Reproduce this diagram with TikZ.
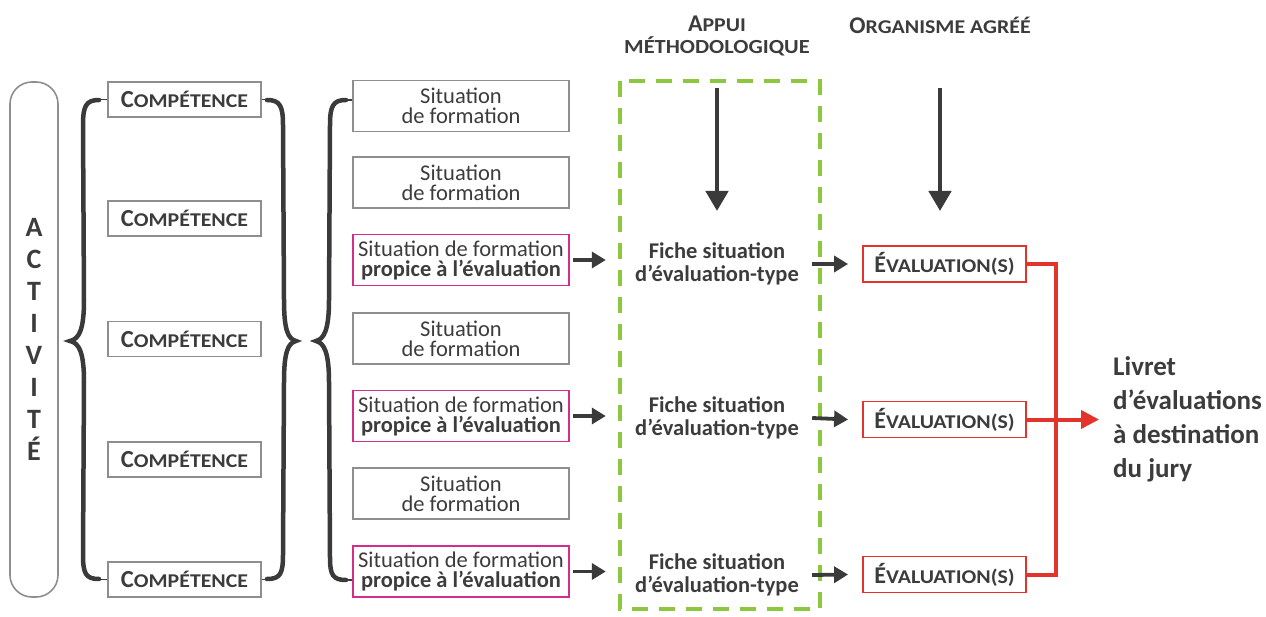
\documentclass[tikz,border=0pt]{standalone}
\usepackage{fontspec}
\setmainfont{Carlito}
\usetikzlibrary{arrows.meta}
\definecolor{txt}{HTML}{3C3C3C}
\definecolor{boxgray}{HTML}{8E8E8E}
\definecolor{mag}{HTML}{D42E8A}
\definecolor{redc}{HTML}{E3342C}
\definecolor{greenc}{HTML}{8DC63F}
\definecolor{dark}{HTML}{3A3A3A}
\newcommand\scw[4]{{\fontsize{#1}{#1}\selectfont #2}{\fontsize{#3}{#3}\selectfont\addfontfeature{FakeStretch=1.12}#4}}
\begin{document}
\begin{tikzpicture}[x=1pt,y=-1pt,text=txt,
  compbox/.style={draw=boxgray, line width=1.6pt, minimum width=153pt, minimum height=35pt, inner sep=0pt, font=\bfseries},
  sitbox/.style={draw=boxgray, line width=1.6pt, minimum width=216pt, minimum height=51pt, inner sep=0pt, align=center, font=\fontsize{22.5}{20}\selectfont},
  propbox/.style={sitbox, draw=mag},
  evalbox/.style={draw=redc, line width=1.8pt, minimum width=163pt, minimum height=36pt, inner sep=0pt, font=\bfseries},
  fiche/.style={minimum width=190pt, inner sep=0pt, align=center, font=\bfseries\fontsize{22.5}{23}\selectfont},
  brace/.style={draw=dark, line width=4.5pt, line cap=round},
  thin/.style={draw=dark, line width=1.2pt},
  arr/.style={draw=dark, line width=3.8pt, -{Triangle[length=14pt,width=16pt]}},
  darr/.style={draw=dark, line width=4.5pt, -{Triangle[length=20pt,width=22pt]}},
  redl/.style={draw=redc, line width=4pt},
  redarr/.style={draw=redc, line width=4pt, -{Triangle[length=18pt,width=18pt]}},
  head/.style={font=\bfseries\fontsize{20}{22}\selectfont, align=center, inner sep=0pt}
]
\useasboundingbox (0,0) rectangle (1266,617);

% Activite
\node[draw=boxgray, line width=1.6pt, rounded corners=22pt, minimum width=48pt, minimum height=515pt,
      align=center, inner sep=0pt, font=\bfseries\fontsize{28}{31.9}\selectfont] (act) at (34,339.5)
      {A\\C\\T\\I\\V\\I\\T\\É};

% Competences
\foreach \n/\y in {1/99.5,2/218.5,3/339,4/459.5,5/579.5}{
  \node[compbox] (c\n) at (184.5,\y) {\scw{24.5}{C}{19.5}{OMPÉTENCE}};
}

% Situations
\node[sitbox]  (s1) at (461,106)   {Situation\\de formation};
\node[sitbox]  (s2) at (461,182.5) {Situation\\de formation};
\node[propbox] (s3) at (461,260)   {Situation de formation\\\textbf{propice à l’évaluation}};
\node[sitbox]  (s4) at (461,338.5) {Situation\\de formation};
\node[propbox] (s5) at (461,416)   {Situation de formation\\\textbf{propice à l’évaluation}};
\node[sitbox]  (s6) at (461,493.5) {Situation\\de formation};
\node[propbox] (s7) at (461,571.5) {Situation de formation\\\textbf{propice à l’évaluation}};

% Braces
\draw[thin] (c1.west) -- ++(-6,0);
\draw[thin] (c5.west) -- ++(-6,0);
\draw[brace] (99,100) .. controls (86,100) and (83,106) .. (83,125) -- (84,300)
   .. controls (84,330) and (79,339) .. (70,341) .. controls (79,343) and (84,352) .. (84,382)
   -- (83,555) .. controls (83,574) and (86,579) .. (99,579);
\draw[thin] (c1.east) -- ++(6,0);
\draw[thin] (c5.east) -- ++(6,0);
\draw[brace] (267,100) .. controls (280,100) and (283,106) .. (283,125) -- (284,300)
   .. controls (284,330) and (288,339) .. (296,341) .. controls (288,343) and (284,352) .. (284,382)
   -- (283,555) .. controls (283,574) and (280,579) .. (267,579);
\draw[thin] (s1.west |- 0,100) -- ++(-8,0);
\draw[thin] (s7.west |- 0,580) -- ++(-8,0);
\draw[brace] (346,100) .. controls (333,100) and (330,106) .. (330,125) -- (329,300)
   .. controls (329,330) and (324,339) .. (316,341) .. controls (324,343) and (329,352) .. (329,382)
   -- (330,558) .. controls (330,575) and (333,580) .. (346,580);

% Green dashed box
\draw[greenc, line width=4.2pt, dash pattern=on 16pt off 11pt] (620,81) rectangle (820,609);

% Headers
\node[head] (h1) at (717,36) {\scw{24}{A}{19.5}{PPUI}\\{\addfontfeature{FakeStretch=1.12}MÉTHODOLOGIQUE}};
\node[head] (h2) at (940,25) {\scw{24}{O}{19.5}{RGANISME AGRÉÉ}};

% Fiches
\node[fiche] (f1) at (717,264) {Fiche situation\\d’évaluation-type};
\node[fiche] (f2) at (717,418) {Fiche situation\\d’évaluation-type};
\node[fiche] (f3) at (717,575) {Fiche situation\\d’évaluation-type};

% Evaluations
\node[evalbox] (e1) at (944.5,264) {\scw{24}{É}{19.5}{VALUATION(S)}};
\node[evalbox] (e2) at (944.5,419.5) {\scw{24}{É}{19.5}{VALUATION(S)}};
\node[evalbox] (e3) at (944.5,574.5) {\scw{24}{É}{19.5}{VALUATION(S)}};

% Livret
\node[anchor=west, align=left, inner sep=0pt, font=\bfseries\fontsize{27}{34}\selectfont] (liv) at (1113,419)
  {Livret\\d’évaluations\\à destination\\du jury};

% Down arrows
\coordinate (a1s) at (717,88);
\coordinate (a1e) at (717,211);
\coordinate (a2s) at (940,88);
\coordinate (a2e) at (940,211);
\draw[darr] (a1s) -- (a1e);
\draw[darr] (a2s) -- (a2e);

% Horizontal arrows
\foreach \s/\f in {s3/f1,s5/f2,s7/f3}{
  \draw[arr] ([xshift=3pt]\s.east) -- ([xshift=-16pt]\f.west |- \s.east);
}
\foreach \f/\e in {f1/e1,f2/e2,f3/e3}{
  \draw[arr] (\f.east) -- ([xshift=-14pt]\e.west);
}

% Red lines
\draw[redl] (e1.east) -- ++(29,0) |- (e3.east);
\draw[redarr] (e2.east) -- ([xshift=-14pt]liv.west |- e2.east);
\end{tikzpicture}
\end{document}
